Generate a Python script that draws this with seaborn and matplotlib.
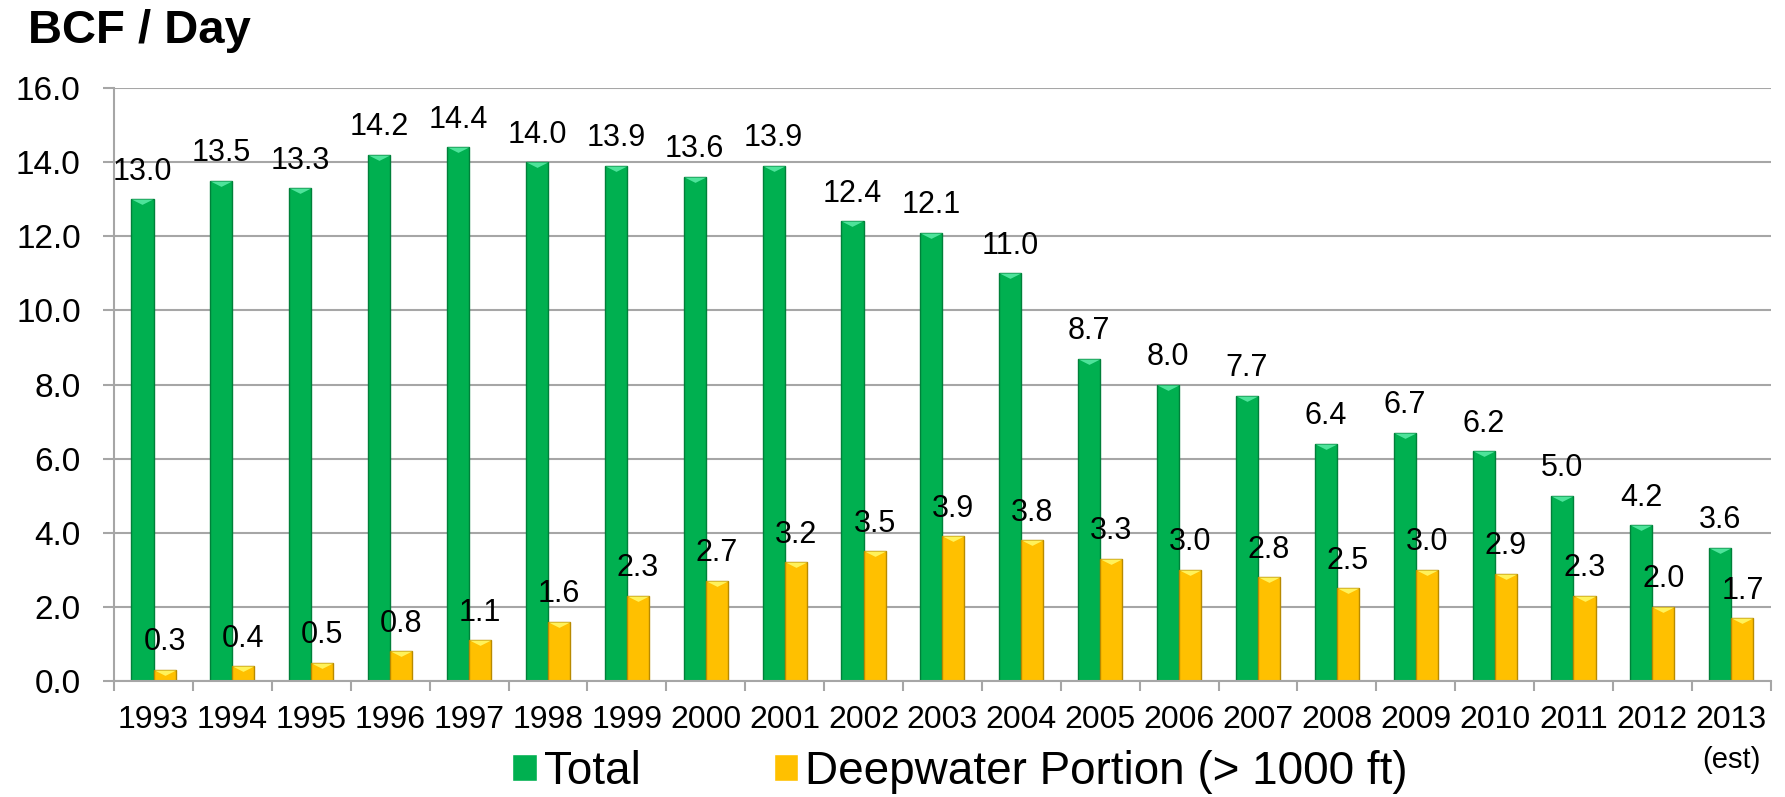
import pandas as pd
import numpy as np
import matplotlib
matplotlib.use('Agg')
import matplotlib.pyplot as plt
import seaborn as sns

# data
years = ['1993', '1994', '1995', '1996', '1997', '1998', '1999', '2000', '2001', '2002',
         '2003', '2004', '2005', '2006', '2007', '2008', '2009', '2010', '2011', '2012', '2013']
total = [13.0, 13.5, 13.3, 14.2, 14.4, 14.0, 13.9, 13.6, 13.9, 12.4,
         12.1, 11.0, 8.7, 8.0, 7.7, 6.4, 6.7, 6.2, 5.0, 4.2, 3.6]
deepwater = [0.3, 0.4, 0.5, 0.8, 1.1, 1.6, 2.3, 2.7, 3.2, 3.5,
             3.9, 3.8, 3.3, 3.0, 2.8, 2.5, 3.0, 2.9, 2.3, 2.0, 1.7]
series_names = ['Total', 'Deepwater Portion (> 1000 ft)']

df = pd.DataFrame({
    'year': years * 2,
    'bcf': total + deepwater,
    'series': [series_names[0]] * len(years) + [series_names[1]] * len(years),
})

sns.set_style('white')
plt.rcParams['font.family'] = ['Liberation Sans', 'DejaVu Sans']
plt.rcParams['text.color'] = 'black'
plt.rcParams['xtick.labelcolor'] = 'black'
plt.rcParams['ytick.labelcolor'] = 'black'

colors = ['#00B050', '#FFC000']
edges = ['#00803A', '#B88A00']
tops = ['#4EE39A', '#FFF25A']
grey = '#A6A6A6'

fig = plt.figure(figsize=(17.85, 7.97), dpi=100)
ax = fig.add_axes([0.0639, 0.1455, 0.9281, 0.7441])

sns.barplot(data=df, x='year', y='bcf', hue='series', hue_order=series_names,
            palette=colors, width=0.56, ax=ax, saturation=1)

# bar edges, bevel triangles and value labels
for i, cont in enumerate(ax.containers):
    xs, hs = [], []
    for p in cont:
        p.set_edgecolor(edges[i])
        p.set_linewidth(1.0)
        xs.append(p.get_x() + p.get_width() / 2)
        hs.append(p.get_height())
    ax.plot(xs, hs, linestyle='none', marker=[(-1, 0), (1, 0), (0, -0.5), (-1, 0)],
            ms=15.5, color=tops[i], mew=0, zorder=3)
    ax.bar_label(cont, fmt='%.1f', padding=9, fontsize=22, color='black')

ax.set_ylim(0, 16)
ax.set_xlim(-0.5, len(years) - 0.5)
ax.set_yticks(np.arange(0, 16.1, 2))
ax.set_yticklabels([f'{v:.1f}' for v in np.arange(0, 16.1, 2)])
ax.yaxis.grid(True, color=grey, linewidth=1.5)
ax.set_axisbelow(True)
ax.set_xlabel('')
ax.set_ylabel('')

for s in ['top', 'right']:
    ax.spines[s].set_visible(False)
for s in ['left', 'bottom']:
    ax.spines[s].set_color(grey)
    ax.spines[s].set_linewidth(1.5)

ax.tick_params(axis='y', left=True, length=8, width=1.5, color=grey, pad=16, labelsize=24)
ax.tick_params(axis='x', which='major', length=0, pad=17, labelsize=23)
ax.set_xticks(np.arange(-0.5, len(years)), minor=True)
ax.tick_params(axis='x', which='minor', bottom=True, length=7, width=1.5, color=grey)

ax.text(len(years) - 1, -0.133, '(est)', transform=ax.get_xaxis_transform(),
        ha='center', va='center', fontsize=21)

handles, labels = ax.get_legend_handles_labels()
ax.legend(handles, labels, loc='center', bbox_to_anchor=(960 / 1785, 1 - 772 / 797),
          bbox_transform=fig.transFigure, ncol=2, frameon=False, fontsize=33,
          handlelength=0.54, handleheight=0.54, handletextpad=0.15, columnspacing=2.9,
          borderpad=0, borderaxespad=0)

fig.text(28 / 1785, 1 - 43 / 797, 'BCF / Day', fontsize=34, fontweight='bold', va='baseline')

fig.savefig('out.png', dpi=100)
